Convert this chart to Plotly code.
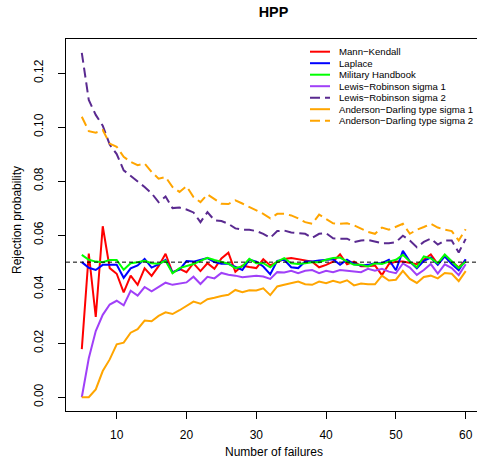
import plotly.graph_objects as go

failures = list(range(5, 61))

mann_kendall = [0.0178, 0.0532, 0.0297, 0.0633, 0.0478, 0.0457, 0.0388, 0.0450, 0.0416, 0.0477,
                0.0449, 0.0485, 0.0531, 0.0461, 0.0475, 0.0463, 0.0496, 0.0467, 0.0496, 0.0475,
                0.0514, 0.0535, 0.0464, 0.0487, 0.0482, 0.0478, 0.0511, 0.0488, 0.0500, 0.0512,
                0.0515, 0.0511, 0.0505, 0.0502, 0.0481, 0.0490, 0.0502, 0.0529, 0.0492, 0.0502,
                0.0485, 0.0485, 0.0488, 0.0452, 0.0493, 0.0502, 0.0502, 0.0497, 0.0492, 0.0509,
                0.0529, 0.0493, 0.0526, 0.0502, 0.0480, 0.0508]

laplace = [0.0500, 0.0479, 0.0471, 0.0490, 0.0490, 0.0490, 0.0442, 0.0477, 0.0488, 0.0512,
           0.0480, 0.0492, 0.0508, 0.0463, 0.0472, 0.0504, 0.0502, 0.0508, 0.0515, 0.0500,
           0.0494, 0.0494, 0.0481, 0.0471, 0.0509, 0.0502, 0.0484, 0.0455, 0.0505, 0.0509,
           0.0481, 0.0478, 0.0502, 0.0502, 0.0506, 0.0509, 0.0511, 0.0490, 0.0509, 0.0493,
           0.0488, 0.0490, 0.0496, 0.0496, 0.0509, 0.0470, 0.0542, 0.0502, 0.0477, 0.0505,
           0.0517, 0.0490, 0.0521, 0.0493, 0.0470, 0.0511]

military_handbook = [0.0527, 0.0509, 0.0502, 0.0500, 0.0508, 0.0508, 0.0472, 0.0496, 0.0500, 0.0505,
                     0.0496, 0.0494, 0.0505, 0.0459, 0.0478, 0.0485, 0.0493, 0.0505, 0.0516, 0.0508,
                     0.0500, 0.0494, 0.0478, 0.0484, 0.0512, 0.0496, 0.0496, 0.0481, 0.0502, 0.0515,
                     0.0496, 0.0493, 0.0496, 0.0500, 0.0500, 0.0509, 0.0515, 0.0517, 0.0502, 0.0490,
                     0.0490, 0.0484, 0.0496, 0.0493, 0.0502, 0.0509, 0.0527, 0.0502, 0.0481, 0.0521,
                     0.0514, 0.0496, 0.0528, 0.0502, 0.0478, 0.0502]

lewis_robinson_1 = [0.0000, 0.0144, 0.0245, 0.0305, 0.0343, 0.0357, 0.0340, 0.0394, 0.0376, 0.0408,
                    0.0392, 0.0408, 0.0424, 0.0416, 0.0421, 0.0425, 0.0446, 0.0419, 0.0446, 0.0440,
                    0.0460, 0.0453, 0.0450, 0.0444, 0.0447, 0.0450, 0.0447, 0.0438, 0.0463, 0.0462,
                    0.0468, 0.0459, 0.0468, 0.0471, 0.0459, 0.0468, 0.0463, 0.0471, 0.0468, 0.0465,
                    0.0463, 0.0475, 0.0468, 0.0475, 0.0465, 0.0459, 0.0495, 0.0480, 0.0453, 0.0471,
                    0.0493, 0.0458, 0.0492, 0.0478, 0.0452, 0.0492]

lewis_robinson_2 = [0.1275, 0.1100, 0.1045, 0.1005, 0.0935, 0.0900, 0.0840, 0.0820, 0.0797, 0.0778,
                    0.0755, 0.0722, 0.0743, 0.0700, 0.0702, 0.0695, 0.0684, 0.0648, 0.0685, 0.0655,
                    0.0652, 0.0642, 0.0625, 0.0620, 0.0620, 0.0615, 0.0605, 0.0590, 0.0615, 0.0617,
                    0.0610, 0.0608, 0.0605, 0.0590, 0.0605, 0.0607, 0.0588, 0.0587, 0.0587, 0.0574,
                    0.0580, 0.0582, 0.0575, 0.0570, 0.0570, 0.0574, 0.0598, 0.0580, 0.0555, 0.0575,
                    0.0587, 0.0565, 0.0580, 0.0580, 0.0536, 0.0586]

anderson_darling_1 = [0.0000, 0.0000, 0.0029, 0.0097, 0.0140, 0.0196, 0.0202, 0.0239, 0.0252, 0.0284,
                      0.0281, 0.0301, 0.0314, 0.0308, 0.0322, 0.0337, 0.0354, 0.0346, 0.0363, 0.0368,
                      0.0375, 0.0379, 0.0397, 0.0389, 0.0396, 0.0395, 0.0403, 0.0378, 0.0410, 0.0416,
                      0.0422, 0.0428, 0.0418, 0.0416, 0.0428, 0.0422, 0.0431, 0.0424, 0.0433, 0.0414,
                      0.0421, 0.0418, 0.0418, 0.0450, 0.0432, 0.0435, 0.0468, 0.0438, 0.0423, 0.0445,
                      0.0450, 0.0440, 0.0460, 0.0457, 0.0430, 0.0467]

anderson_darling_2 = [0.1038, 0.0985, 0.0979, 0.0989, 0.0939, 0.0927, 0.0890, 0.0871, 0.0859, 0.0865,
                      0.0834, 0.0809, 0.0815, 0.0778, 0.0760, 0.0781, 0.0741, 0.0722, 0.0751, 0.0735,
                      0.0716, 0.0715, 0.0729, 0.0717, 0.0704, 0.0694, 0.0679, 0.0662, 0.0679, 0.0679,
                      0.0673, 0.0662, 0.0648, 0.0642, 0.0676, 0.0660, 0.0644, 0.0642, 0.0644, 0.0636,
                      0.0623, 0.0612, 0.0605, 0.0628, 0.0620, 0.0630, 0.0642, 0.0605, 0.0620, 0.0630,
                      0.0642, 0.0628, 0.0620, 0.0615, 0.0580, 0.0622]

ref_level = 0.05

series_names = ["Mann\u2212Kendall", "Laplace", "Military Handbook", "Lewis\u2212Robinson sigma 1",
                "Lewis\u2212Robinson sigma 2", "Anderson\u2212Darling type sigma 1",
                "Anderson\u2212Darling type sigma 2"]
series_values = [mann_kendall, laplace, military_handbook, lewis_robinson_1,
                 lewis_robinson_2, anderson_darling_1, anderson_darling_2]
series_colors = ["#FF0000", "#0000FF", "#00FF00", "#A040F8", "#5A2A90", "#FFA500", "#FFA500"]
series_dash = ["solid", "solid", "solid", "solid", "10px,5px", "solid", "10px,5px"]

x_ticks = [10, 20, 30, 40, 50, 60]
y_ticks = [0.00, 0.02, 0.04, 0.06, 0.08, 0.10, 0.12]

FONT = "Liberation Sans, Arial, Helvetica, sans-serif"
W_FIG, H_FIG = 477, 474
L, R, T, B = 66, 477, 39, 411


def px(x):
    return (x - L) / (R - L)


def py(y):
    return (B - y) / (B - T)


fig = go.Figure()
for name, vals, col, dash in zip(series_names, series_values, series_colors, series_dash):
    fig.add_trace(go.Scatter(x=failures, y=vals, mode="lines", name=name,
                             line=dict(color=col, width=2, dash=dash), showlegend=False))

fig.add_hline(y=ref_level, line=dict(color="black", width=1, dash="4px,3px"))

# legend box (R style)
shapes = [dict(type="rect", xref="paper", yref="paper", x0=px(302.3), x1=px(492),
               y0=py(131.7), y1=py(39.3), line=dict(color="black", width=1),
               fillcolor="white", layer="above")]
annotations = []
for i, (name, col, dash) in enumerate(zip(series_names, series_colors, series_dash)):
    yy = 51.7 + i * 11.5
    shapes.append(dict(type="line", xref="paper", yref="paper", x0=px(310), x1=px(330),
                       y0=py(yy), y1=py(yy), line=dict(color=col, width=2, dash=dash), layer="above"))
    annotations.append(dict(text=name, xref="paper", yref="paper", x=px(336.5), y=py(yy),
                            xanchor="left", yanchor="middle", showarrow=False,
                            font=dict(family=FONT, size=9.6, color="black")))

annotations.append(dict(text="Number of failures", xref="paper", yref="paper",
                        x=px(273.5), y=py(452), xanchor="center", yanchor="middle",
                        showarrow=False, font=dict(family=FONT, size=12, color="black")))
annotations.append(dict(text="Rejection probability", xref="paper", yref="paper",
                        x=px(17), y=py(220), xanchor="center", yanchor="middle", textangle=-90,
                        showarrow=False, font=dict(family=FONT, size=12, color="black")))

fig.update_layout(
    width=W_FIG, height=H_FIG,
    margin=dict(l=L, r=W_FIG - R, t=T, b=H_FIG - B, pad=0),
    paper_bgcolor="white", plot_bgcolor="white",
    font=dict(family=FONT, size=12, color="black"),
    title=dict(text="<b>HPP</b>", xref="paper", x=px(273.5), xanchor="center",
               yref="container", y=1 - 12 / H_FIG, yanchor="middle",
               font=dict(family=FONT, size=14.4, color="black")),
    shapes=shapes, annotations=annotations,
    xaxis=dict(range=[2.736, 2.736 + (R - L) / 6.98], tickvals=x_ticks, ticks="outside",
               ticklen=7, tickwidth=1, tickcolor="black", showline=True, linecolor="black",
               linewidth=1, mirror=True, showgrid=False, zeroline=False,
               tickfont=dict(family=FONT, size=12), ticklabelstandoff=6),
    yaxis=dict(range=[-0.0051, 0.1326], tickvals=y_ticks, tickformat=".2f", ticks="outside",
               ticklen=7, tickwidth=1, tickcolor="black", showline=True, linecolor="black",
               linewidth=1, mirror=False, showgrid=False, zeroline=False, tickangle=-90,
               tickfont=dict(family=FONT, size=12), ticklabelstandoff=10),
)

fig.write_html("out.html", config={"displayModeBar": False},
               post_script="document.body.style.margin='0';document.body.style.padding='0';"
                           "document.body.style.overflow='hidden';")
